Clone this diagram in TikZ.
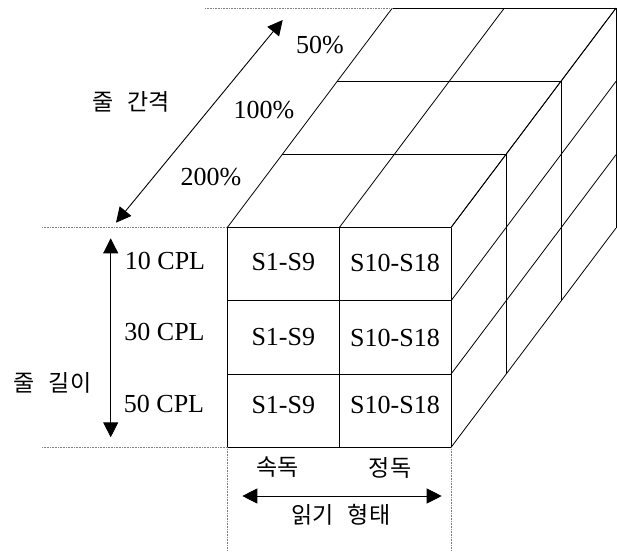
\documentclass[tikz,border=0pt]{standalone}
\usepackage{fontspec}
\setmainfont{Liberation Serif}
\newfontfamily\krfont[WordSpace=2.7]{Noto Sans CJK KR}
\usetikzlibrary{arrows.meta}
\begin{document}
\begin{tikzpicture}[x=1pt,y=-1pt,
  edge/.style={line width=0.8pt},
  dotline/.style={gray, line width=0.6pt, dash pattern=on 0.8pt off 0.8pt},
  dblarrow/.style={line width=0.9pt, {Triangle[length=15pt,width=15pt]}-{Triangle[length=15pt,width=15pt]}},
  lat/.style={font=\fontsize{26}{30}\selectfont, inner sep=0pt},
  kor/.style={font=\krfont\fontsize{23}{28}\selectfont, inner sep=0pt}]
\useasboundingbox (0,0) rectangle (617,551);
% front face grid
\foreach \k in {0,1,2,3} \draw[edge] (227.3,{227.5+73.3*\k}) -- (451,{227.5+73.3*\k});
\foreach \xx in {227.3,339.3,451} \draw[edge] (\xx,227.5) -- (\xx,447.4);
% top face
\foreach \i in {1,2,3} \draw[edge] ({227.3+55*\i},{227.5-73.1*\i}) -- ({451+55*\i},{227.5-73.1*\i});
\foreach \xx in {227.3,339.3,451} \draw[edge] (\xx,227.5) -- ++(165,-219.4);
% right face
\foreach \k in {0,1,2,3} \draw[edge] (451,{227.5+73.3*\k}) -- ++(165,-219.4);
\foreach \i in {1,2,3} \draw[edge] ({451+55*\i},{227.5-73.1*\i}) -- ++(0,219.9);
% dotted guides
\draw[dotline] (205,8.3) -- (392.3,8.3);
\draw[dotline] (42,227.5) -- (227.3,227.5);
\draw[dotline] (42,447.4) -- (227.3,447.4);
\draw[dotline] (227.3,447.4) -- (227.3,551);
\draw[dotline] (451,447.4) -- (451,551);
% arrows
\coordinate (dA) at (116,222.7);
\coordinate (dB) at (282.7,20);
\coordinate (vA) at (110.7,238.3);
\coordinate (vB) at (110.7,437.3);
\coordinate (hA) at (242.3,496);
\coordinate (hB) at (441.7,496);
\draw[dblarrow] (dA) -- (dB);
\draw[dblarrow] (vA) -- (vB);
\draw[dblarrow] (hA) -- (hB);
% labels
\node[lat] (p50) at (320,45) {50\%};
\node[lat] (p100) at (264,110.5) {100\%};
\node[lat] (p200) at (211,177) {200\%};
\node[kor] (gap) at (131,102) {줄 간격};
\node[lat] (c10) at (165,261) {10 CPL};
\node[lat] (c30) at (164.5,332) {30 CPL};
\node[lat] (c50) at (164,404) {50 CPL};
\node[kor] (len) at (52.5,382.5) {줄 길이};
\node[lat] (s1) at (283.3,262.5) {S1-S9};
\node[lat] (s2) at (283.3,337.5) {S1-S9};
\node[lat] (s3) at (283.3,405) {S1-S9};
\node[lat] (t1) at (395,262.5) {S10-S18};
\node[lat] (t2) at (395,337.5) {S10-S18};
\node[lat] (t3) at (395,405) {S10-S18};
\node[kor] (fast) at (277.5,467.5) {속독};
\node[kor] (slow) at (390,467.5) {정독};
\node[kor] (mode) at (341,515) {읽기 형태};
\end{tikzpicture}
\end{document}
